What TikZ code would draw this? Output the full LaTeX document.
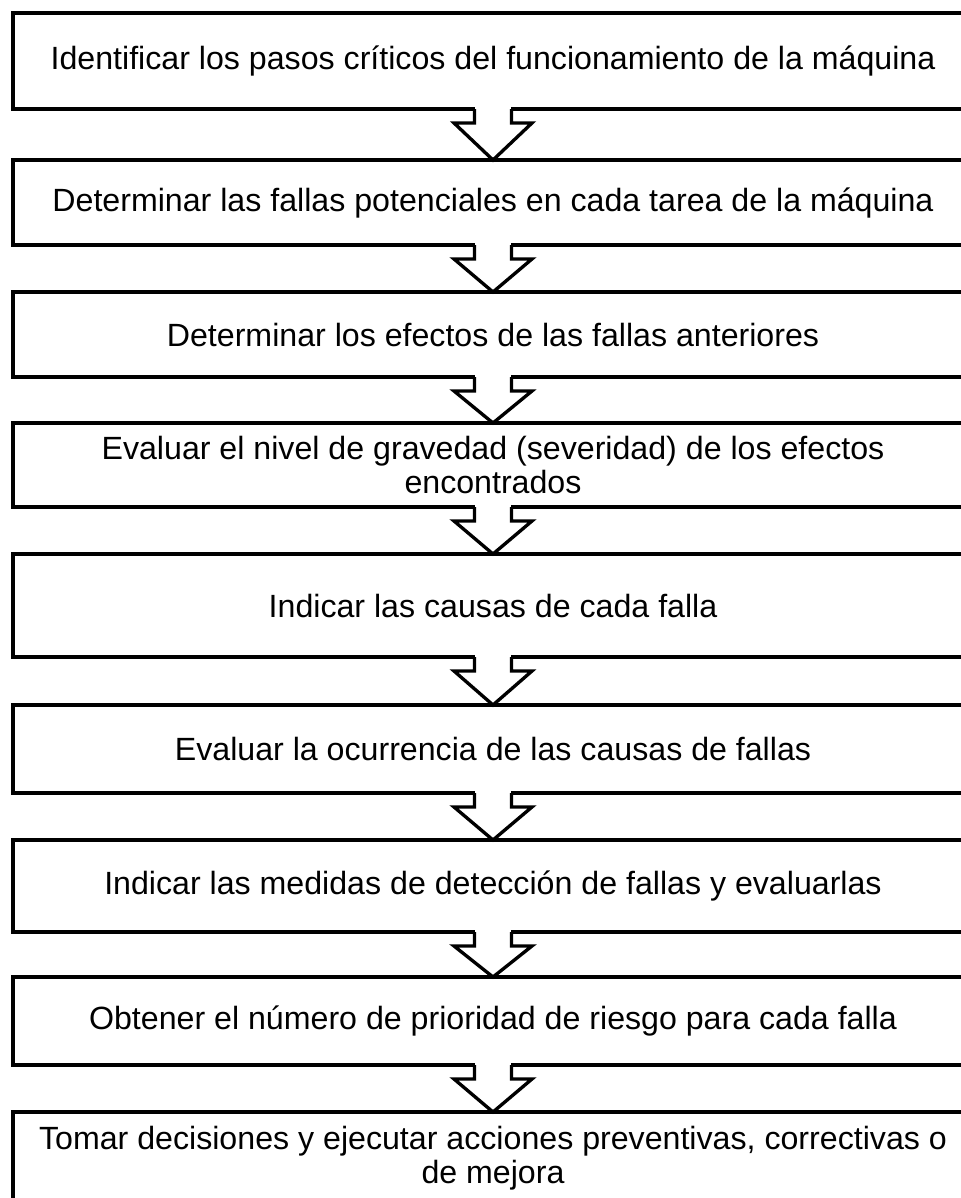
\documentclass[tikz,border=0pt]{standalone}
\usepackage{fontspec}
\setmainfont{Liberation Sans}
\usepackage{tikz}
\newcommand{\flowarrow}[2]{%
  \fill[white] ([xshift=-0.37cm,yshift=0.06cm]#1.south) rectangle ([xshift=0.37cm,yshift=-0.06cm]#1.south);
  \draw[arrline] ([xshift=-0.37cm]#1.south) -- ([xshift=-0.37cm,yshift=-0.28cm]#1.south)
    -- ([xshift=-0.78cm,yshift=-0.28cm]#1.south) -- (#2.north)
    -- ([xshift=0.78cm,yshift=-0.28cm]#1.south) -- ([xshift=0.37cm,yshift=-0.28cm]#1.south)
    -- ([xshift=0.37cm]#1.south);}

\begin{document}
\begin{tikzpicture}[x=0.02cm,y=-0.02cm,
  stepbox/.style={draw=black,line width=1.9pt,fill=white,minimum width=960*0.02cm,inner sep=0pt,outer sep=0pt,align=center,font=\fontsize{18.3}{19.3}\selectfont},
  arrline/.style={draw=black,line width=1.9pt}]
\useasboundingbox (0,0) rectangle (961,1198);
\clip (0,0) rectangle (961,1198);
\node[stepbox,minimum height=96*0.02cm] (s1) at (493,61) {Identificar los pasos críticos del funcionamiento de la máquina};
\node[stepbox,minimum height=85*0.02cm] (s2) at (493,202.5) {Determinar las fallas potenciales en cada tarea de la máquina};
\node[stepbox,minimum height=85*0.02cm] (s3) at (493,334.5) {Determinar los efectos de las fallas anteriores};
\node[stepbox,minimum height=84*0.02cm] (s4) at (493,465) {Evaluar el nivel de gravedad (severidad) de los efectos\\encontrados};
\node[stepbox,minimum height=103*0.02cm] (s5) at (493,605.5) {Indicar las causas de cada falla};
\node[stepbox,minimum height=88*0.02cm] (s6) at (493,749) {Evaluar la ocurrencia de las causas de fallas};
\node[stepbox,minimum height=92*0.02cm] (s7) at (493,886) {Indicar las medidas de detección de fallas y evaluarlas};
\node[stepbox,minimum height=88*0.02cm] (s8) at (493,1021) {Obtener el número de prioridad de riesgo para cada falla};
\node[stepbox,minimum height=92*0.02cm] (s9) at (493,1158) {Tomar decisiones y ejecutar acciones preventivas, correctivas o\\de mejora};
\flowarrow{s1}{s2}
\flowarrow{s2}{s3}
\flowarrow{s3}{s4}
\flowarrow{s4}{s5}
\flowarrow{s5}{s6}
\flowarrow{s6}{s7}
\flowarrow{s7}{s8}
\flowarrow{s8}{s9}
\end{tikzpicture}
\end{document}
